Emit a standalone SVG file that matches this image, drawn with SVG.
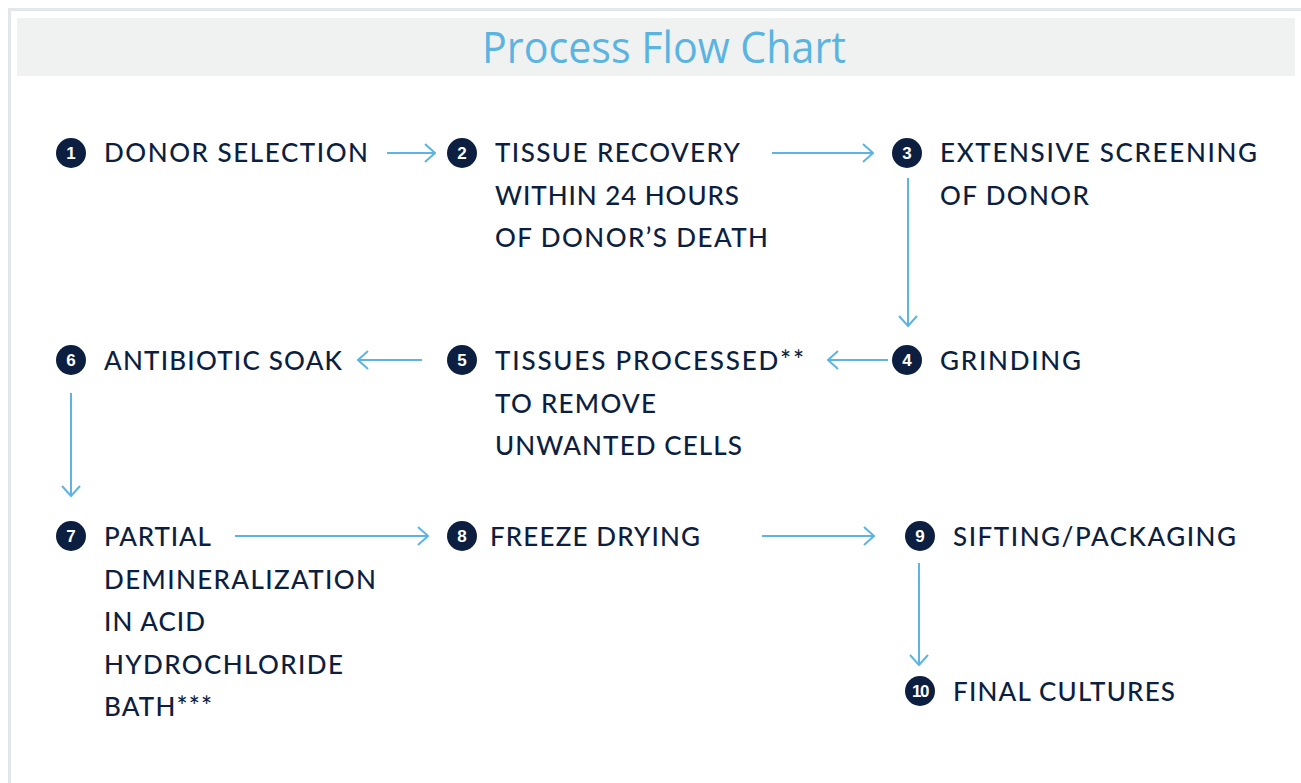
<svg xmlns="http://www.w3.org/2000/svg" width="1301" height="783" viewBox="0 0 1301 783">
<style>
.t{font-family:Lato,"Noto Sans","Liberation Sans",sans-serif;font-size:26px;font-weight:500;fill:#0d1f40;}
.n{font-family:"Liberation Sans",Arial,sans-serif;font-size:17px;font-weight:bold;fill:#ffffff;text-anchor:middle;}
.c{fill:#0d1f40;}
.a{stroke:#5db4e3;stroke-width:2;fill:none;}
</style>
<defs>
<marker id="ah" viewBox="0 0 12 20" refX="11" refY="10" markerWidth="12" markerHeight="20" markerUnits="userSpaceOnUse" orient="auto">
<path d="M1,1 L11,10 L1,19" fill="none" stroke="#5db4e3" stroke-width="2"/>
</marker>
</defs>
<rect width="1301" height="783" fill="#ffffff"/>
<rect x="8" y="8" width="1300" height="800" fill="none" stroke="#e4e7ea" stroke-width="3" transform="translate(1.5,1.5)"/>
<rect x="17" y="18" width="1278" height="58" fill="#f0f1f1"/>
<text x="664" y="63" text-anchor="middle" font-family="'Open Sans','Noto Sans',sans-serif" font-size="44" fill="#5ab4e2" textLength="364" lengthAdjust="spacingAndGlyphs">Process Flow Chart</text>

<g id="connectors">
<line class="a" x1="387" y1="153" x2="435" y2="153" marker-end="url(#ah)"/>
<line class="a" x1="772" y1="153" x2="873" y2="153" marker-end="url(#ah)"/>
<line class="a" x1="908" y1="178" x2="908" y2="326" marker-end="url(#ah)"/>
<line class="a" x1="888" y1="360" x2="828" y2="360" marker-end="url(#ah)"/>
<line class="a" x1="422" y1="360" x2="358" y2="360" marker-end="url(#ah)"/>
<line class="a" x1="71" y1="393" x2="71" y2="496" marker-end="url(#ah)"/>
<line class="a" x1="235" y1="536" x2="428" y2="536" marker-end="url(#ah)"/>
<line class="a" x1="762" y1="536" x2="874" y2="536" marker-end="url(#ah)"/>
<line class="a" x1="919" y1="563" x2="919" y2="665" marker-end="url(#ah)"/>
</g>

<g id="n1"><circle class="c" cx="71" cy="153" r="15"/><text class="n" x="71" y="159">1</text>
<text class="t" x="104" y="162" textLength="264">DONOR SELECTION</text></g>

<g id="n2"><circle class="c" cx="462" cy="153" r="15"/><text class="n" x="462" y="159">2</text>
<text class="t" x="495" y="162" textLength="245">TISSUE RECOVERY</text>
<text class="t" x="495" y="204.5" textLength="244">WITHIN 24 HOURS</text>
<text class="t" x="495" y="247" textLength="273">OF DONOR’S DEATH</text></g>

<g id="n3"><circle class="c" cx="907" cy="153" r="15"/><text class="n" x="907" y="159">3</text>
<text class="t" x="940" y="162" textLength="317">EXTENSIVE SCREENING</text>
<text class="t" x="940" y="204.5" textLength="149">OF DONOR</text></g>

<g id="n4"><circle class="c" cx="907" cy="360" r="15"/><text class="n" x="907" y="366">4</text>
<text class="t" x="940" y="370" textLength="141">GRINDING</text></g>

<g id="n5"><circle class="c" cx="462" cy="360" r="15"/><text class="n" x="462" y="366">5</text>
<text class="t" x="495" y="370" textLength="309">TISSUES PROCESSED**</text>
<text class="t" x="495" y="412.5" textLength="161">TO REMOVE</text>
<text class="t" x="495" y="455" textLength="247">UNWANTED CELLS</text></g>

<g id="n6"><circle class="c" cx="71" cy="360" r="15"/><text class="n" x="71" y="366">6</text>
<text class="t" x="104" y="370" textLength="238">ANTIBIOTIC SOAK</text></g>

<g id="n7"><circle class="c" cx="71" cy="536" r="15"/><text class="n" x="71" y="542">7</text>
<text class="t" x="104" y="546" textLength="107">PARTIAL</text>
<text class="t" x="104" y="588.5" textLength="272">DEMINERALIZATION</text>
<text class="t" x="104" y="631" textLength="101">IN ACID</text>
<text class="t" x="104" y="673.5" textLength="239">HYDROCHLORIDE</text>
<text class="t" x="104" y="716" textLength="108">BATH***</text></g>

<g id="n8"><circle class="c" cx="462" cy="536" r="15"/><text class="n" x="462" y="542">8</text>
<text class="t" x="490" y="546" textLength="210">FREEZE DRYING</text></g>

<g id="n9"><circle class="c" cx="920" cy="536" r="15"/><text class="n" x="920" y="542">9</text>
<text class="t" x="953" y="546" textLength="283">SIFTING/PACKAGING</text></g>

<g id="n10"><circle class="c" cx="920" cy="691" r="15"/><text class="n" x="920" y="697" style="letter-spacing:-1.5px">10</text>
<text class="t" x="953" y="701" textLength="222">FINAL CULTURES</text></g>
</svg>
